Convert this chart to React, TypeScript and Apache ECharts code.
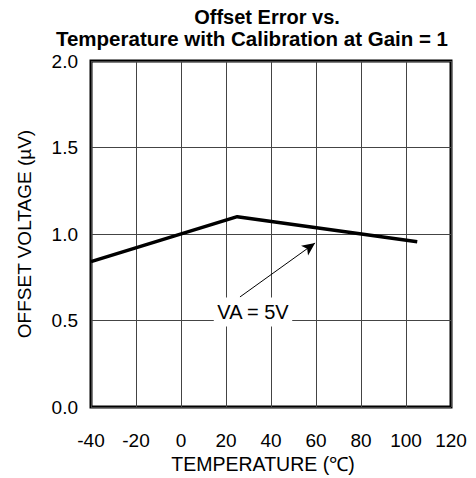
import React, { useEffect, useRef } from "react";
import * as echarts from "echarts";

const titleLines = ["Offset Error vs.", "Temperature with Calibration at Gain = 1"];
const xName = "TEMPERATURE (℃)";
const yName = "OFFSET VOLTAGE (µV)";
const temperatures = [-40, 25, 105];
const offsetVoltage = [0.84, 1.1, 0.955];
const annotationText = "VA = 5V";
const arrowFrom = [26.2, 0.636];
const arrowTo = [59.6, 0.948];
const labelAt = [32, 0.549];

const FONT = "Arial, 'Liberation Sans', Helvetica, sans-serif";

export default function App() {
  const ref = useRef<HTMLDivElement>(null);
  useEffect(() => {
    if (!ref.current) return;
    const chart = echarts.init(ref.current, undefined, { renderer: "svg" });
    chart.setOption({
      animation: false,
      backgroundColor: "#fff",
      textStyle: { fontFamily: FONT },
      graphic: [
        {
          type: "text",
          x: 267,
          y: 27,
          style: {
            text: titleLines[0],
            font: `bold 20px ${FONT}`,
            fill: "#000",
            align: "center",
            verticalAlign: "bottom",
          },
        },
        {
          type: "text",
          x: 252,
          y: 48,
          style: {
            text: titleLines[1],
            font: `bold 20.5px ${FONT}`,
            fill: "#000",
            align: "center",
            verticalAlign: "bottom",
            lineHeight: 20,
          },
        },
        {
          type: "text",
          x: 263,
          y: 464,
          style: {
            text: xName,
            font: `19.5px ${FONT}`,
            fill: "#000",
            align: "center",
            verticalAlign: "middle",
          },
        },
        {
          type: "text",
          x: 24,
          y: 234,
          rotation: Math.PI / 2,
          style: {
            text: yName,
            font: `19px ${FONT}`,
            fill: "#000",
            align: "center",
            verticalAlign: "middle",
          },
        },
      ],
      grid: {
        left: 91,
        right: 25,
        top: 61,
        bottom: 71,
        show: true,
        borderColor: "#000",
        borderWidth: 3,
        backgroundColor: "transparent",
      },
      xAxis: {
        type: "value",
        min: -40,
        max: 120,
        interval: 20,
        axisLine: { show: false },
        axisTick: { show: false },
        axisLabel: { color: "#000", fontSize: 19, margin: 24, fontFamily: FONT },
        splitLine: { show: true, lineStyle: { color: "#444", width: 1 } },
      },
      yAxis: {
        type: "value",
        min: 0,
        max: 2,
        interval: 0.5,
        axisLine: { show: false },
        axisTick: { show: false },
        axisLabel: {
          color: "#000",
          fontSize: 19,
          margin: 13,
          fontFamily: FONT,
          formatter: (v: number) => v.toFixed(1),
        },
        splitLine: { show: true, lineStyle: { color: "#444", width: 1 } },
      },
      series: [
        {
          type: "line",
          data: temperatures.map((t, i) => [t, offsetVoltage[i]]),
          showSymbol: false,
          symbol: "none",
          lineStyle: { color: "#000", width: 3.5 },
          markLine: {
            silent: true,
            symbol: ["none", "arrow"],
            symbolSize: [9, 13],
            label: { show: false },
            lineStyle: { color: "#000", width: 1, type: "solid" },
            data: [[{ coord: arrowFrom }, { coord: arrowTo }]],
          },
          markPoint: {
            silent: true,
            symbol: "rect",
            symbolSize: 0,
            data: [
              {
                coord: labelAt,
                label: {
                  show: true,
                  position: "inside",
                  formatter: annotationText,
                  color: "#000",
                  fontSize: 20,
                  fontFamily: FONT,
                  backgroundColor: "#fff",
                  padding: [5, 3, 4, 3],
                },
              },
            ],
          },
        },
      ],
    });
    return () => chart.dispose();
  }, []);
  return <div ref={ref} style={{ width: 476, height: 478, position: "absolute", left: 0, top: 0 }} />;
}
